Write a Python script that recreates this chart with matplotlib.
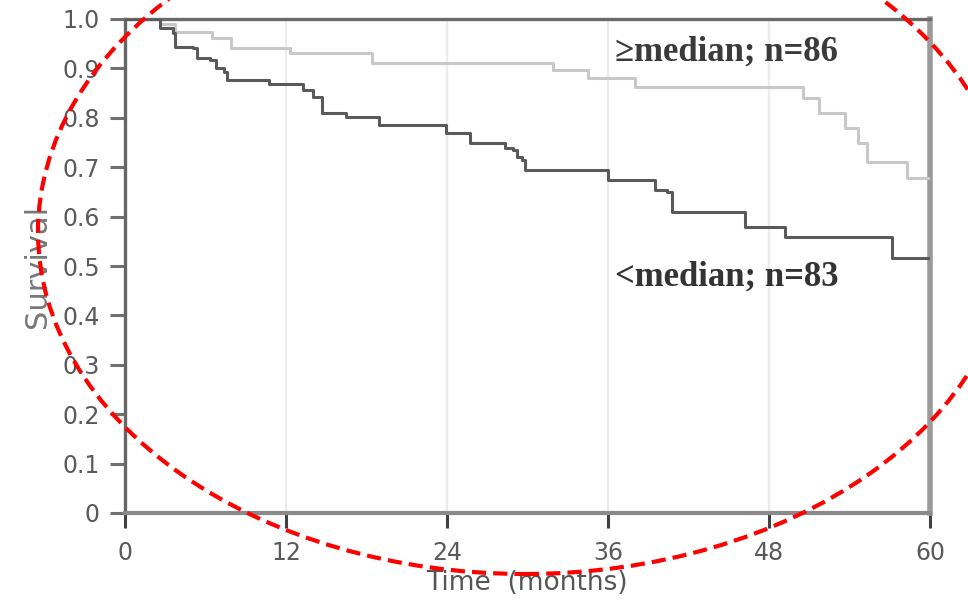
import matplotlib
matplotlib.use("Agg")
import matplotlib.pyplot as plt
from matplotlib.patches import Ellipse

# Kaplan-Meier step data (time in months, survival)
high_times = [0, 2.6, 3.7, 6.5, 7.9, 12.3, 18.4, 31.9, 34.5, 38.0, 50.5, 51.7, 53.7, 54.6, 55.3, 58.3, 60]
high_surv  = [1.0, 0.99, 0.974, 0.961, 0.941, 0.931, 0.911, 0.897, 0.881, 0.862, 0.840, 0.810, 0.779, 0.749, 0.711, 0.678, 0.678]

low_times = [0, 2.6, 3.6, 3.7, 5.1, 5.4, 6.3, 6.8, 7.4, 7.6, 10.7, 13.3, 14.0, 14.7, 16.5, 18.9, 23.9, 25.7,
             28.3, 28.9, 29.2, 29.6, 29.8, 36.0, 39.5, 40.4, 40.8, 46.2, 49.2, 57.2, 60]
low_surv  = [1.0, 0.982, 0.972, 0.943, 0.941, 0.921, 0.917, 0.901, 0.893, 0.877, 0.868, 0.856, 0.842, 0.810, 0.802,
             0.786, 0.769, 0.749, 0.739, 0.735, 0.721, 0.715, 0.694, 0.674, 0.654, 0.650, 0.609, 0.579, 0.559, 0.516, 0.516]

x_ticks = [0, 12, 24, 36, 48, 60]
y_ticks = [0, 0.1, 0.2, 0.3, 0.4, 0.5, 0.6, 0.7, 0.8, 0.9, 1.0]
y_tick_labels = ["0", "0.1", "0.2", "0.3", "0.4", "0.5", "0.6", "0.7", "0.8", "0.9", "1.0"]
label_high = "\u2265median; n=86"
label_low = "<median; n=83"

fig = plt.figure(figsize=(9.68, 6.0), dpi=100)
ax = fig.add_axes([125/968, 1-513/600, (930-125)/968, (513-19)/600])

ax.set_xlim(0, 60)
ax.set_ylim(0, 1.0)

for xv in x_ticks[1:-1]:
    ax.axvline(xv, color="#ececec", lw=1.6, zorder=0)

ax.step(high_times, high_surv, where="post", color="#c8c8c8", lw=2.2, zorder=3)
ax.step(low_times, low_surv, where="post", color="#5a5a5a", lw=2.2, zorder=4)

ax.set_xticks(x_ticks)
ax.set_xticklabels([str(v) for v in x_ticks])
ax.set_yticks(y_ticks)
ax.set_yticklabels(y_tick_labels)

for lab in ax.get_xticklabels() + ax.get_yticklabels():
    lab.set_family("DejaVu Sans")
ax.tick_params(axis="y", direction="out", length=11, width=2.2, color="#707070",
               labelsize=17, labelcolor="#5a5a5a", pad=7)
ax.tick_params(axis="x", direction="out", length=11, width=2.2, color="#404040",
               labelsize=17, labelcolor="#5a5a5a", pad=9)

ax.spines["left"].set_color("#666666")
ax.spines["left"].set_linewidth(2.4)
ax.spines["top"].set_color("#6a6a6a")
ax.spines["top"].set_linewidth(2.4)
ax.spines["bottom"].set_color("#8a8a8a")
ax.spines["bottom"].set_linewidth(3.0)
ax.spines["right"].set_color("#9a9a9a")
ax.spines["right"].set_linewidth(4.0)

ax.set_ylabel("Survival", fontsize=22, color="#777777")
ax.yaxis.set_label_coords(-(125-52)/805, 0.5)
ax.set_xlabel("Time  (months)", fontsize=19, color="#555555")
ax.xaxis.set_label_coords((527-125)/805, -(570-513)/494)

ax.text(36.5, 0.933, label_high, fontsize=25, family="Liberation Serif", fontweight="bold",
        color="#3a3a3a", va="center", ha="left")
ax.text(36.5, 0.478, label_low, fontsize=25, family="Liberation Serif", fontweight="bold",
        color="#333333", va="center", ha="left")

ell = Ellipse((525/968, 1-232/600), 2*487/968, 2*342/600, transform=fig.transFigure,
              fill=False, edgecolor="#ff0000", lw=3.0, linestyle=(0, (3.4, 1.7)), clip_on=False, zorder=10)
fig.patches.append(ell)

fig.savefig("out.png", dpi=100)
